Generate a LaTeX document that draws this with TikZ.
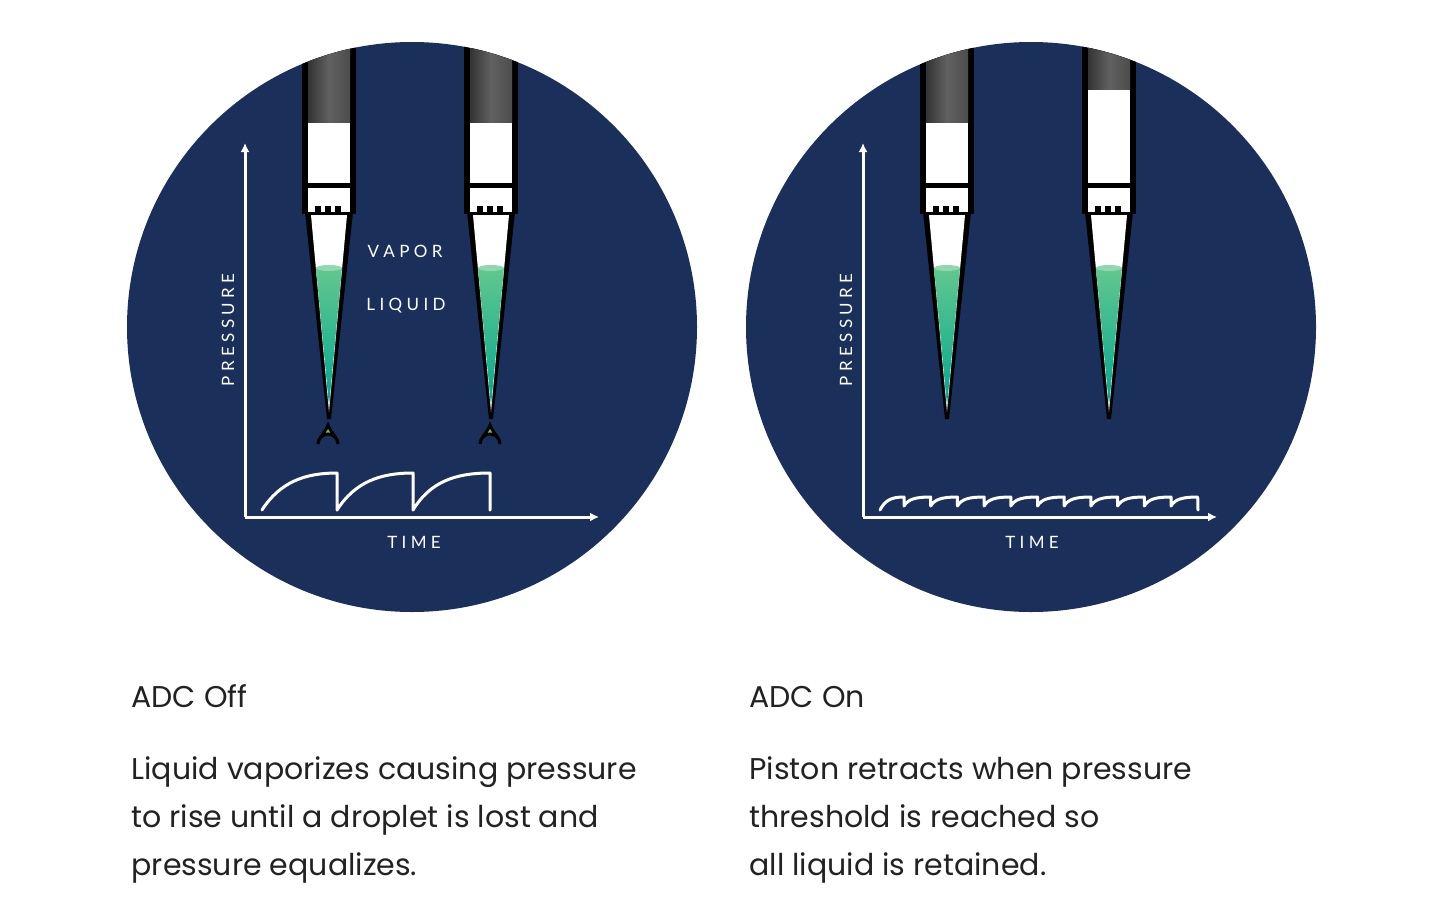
\documentclass[tikz,border=0pt]{standalone}
\usepackage{fontspec}
\usetikzlibrary{arrows.meta}
\setmainfont{Poppins}
\newfontfamily\lab{Lato}
\begin{document}
\definecolor{navy}{HTML}{1B2F5B}
\definecolor{ink}{HTML}{222222}
\definecolor{liqtop}{HTML}{62C78F}
\definecolor{liqbot}{HTML}{00A890}
\definecolor{drop}{HTML}{7AC143}
\newcommand\mypip[3]{%
 \begin{scope}[shift={(#1,0)}]
  \fill[black] (-27,30) rectangle (27,214);
  \fill[black] (-24,212) -- (24,212) -- (2,419) -- (-2,419) -- cycle;
  \shade[top color=black!80,bottom color=black!70,middle color=black!62,shading angle=90] (-21,30) rectangle (21,#2);
  \fill[white] (-21,#2+1) rectangle (21,183);
  \fill[white] (-21,188) rectangle (21,207);
  \fill[white] (-18,215) -- (18,215) -- (0,412) -- cycle;
  \fill[white] (-21,207) rectangle (21,212);
  \foreach \t in {-14,-4,6} \fill[black] (\t,206) rectangle (\t+6,214);
  \shade[top color=liqtop,bottom color=liqbot] (-13,268) -- (13,268) -- (0,406) -- cycle;
  \fill[liqtop!70!white] (0,268) ellipse (13 and 3);
  \ifx#3y
   \filldraw[fill=drop,draw=black,line width=3pt] (-1,425) .. controls (-4,433) and (-11,438) .. (-11,444) arc[start angle=180,end angle=360,radius=10] .. controls (9,438) and (2,433) .. (-1,425) -- cycle;
  \fi
 \end{scope}}
\begin{tikzpicture}[x=1pt,y=-1pt,
  ax/.style={white,line width=3pt,-{Latex[length=9pt,width=9pt]}},
  wave/.style={white,line width=3pt,line join=round,line cap=round},
  lbl/.style={white,font=\lab\fontsize{17}{17}\selectfont},
  ttl/.style={ink,anchor=base west,font=\fontsize{30}{30}\selectfont},
  txt/.style={ink,anchor=base west,font=\fontsize{30}{30}\selectfont}]
\useasboundingbox[fill=white] (0,0) rectangle (1440,921);
% left panel
\fill[navy] (412,327) circle (285);
\begin{scope}
 \clip (412,327) circle (285);
 \mypip{329}{122}{y}
 \mypip{491}{122}{y}
\end{scope}
\coordinate (lo) at (245,517);
\coordinate (ly) at (245,143);
\coordinate (lx) at (599,517);
\draw[ax] (lo) -- (ly);
\draw[ax] (lo) -- (lx);
\draw[wave] (262,510) .. controls (280,482) and (305,473) .. (337,473) -- (337,510)
  .. controls (355,482) and (380,473) .. (413,473) -- (413,510)
  .. controls (430,482) and (455,473) .. (490,473) -- (490,510);
\node[lbl,rotate=90] (lp) at (228,330) {P R E S S U R E};
\node[lbl] (lt) at (414,542) {T I M E};
\node[lbl] (vap) at (405,251) {V A P O R};
\node[lbl] (liq) at (406,306) {L I Q U I D};
% right panel
\fill[navy] (1031,327) circle (285);
\begin{scope}
 \clip (1031,327) circle (285);
 \mypip{947}{122}{n}
 \mypip{1109}{89}{n}
\end{scope}
\coordinate (ro) at (863,517);
\coordinate (ry) at (863,143);
\coordinate (rx) at (1217,517);
\draw[ax] (ro) -- (ry);
\draw[ax] (ro) -- (rx);
\draw[wave] (880,510) .. controls (885,500) and (892,497) .. (904,497)
 \foreach \i in {0,...,10} { -- ({904+26.7*\i},506) .. controls ({908+26.7*\i},499) and ({916+26.7*\i},497) .. ({930.7+26.7*\i},497) } -- (1198,510);
\node[lbl,rotate=90] (rp) at (846,330) {P R E S S U R E};
\node[lbl] (rt) at (1032,542) {T I M E};
% texts
\node[ttl] (t1) at (128,707) {ADC Off};
\node[txt] (a1) at (128,779) {Liquid vaporizes causing pressure};
\node[txt] (a2) at (128,827) {to rise until a droplet is lost and};
\node[txt] (a3) at (128,875) {pressure equalizes.};
\node[ttl] (t2) at (746,707) {ADC On};
\node[txt] (b1) at (746,779) {Piston retracts when pressure};
\node[txt] (b2) at (746,827) {threshold is reached so};
\node[txt] (b3) at (746,875) {all liquid is retained.};
\end{tikzpicture}
\end{document}
